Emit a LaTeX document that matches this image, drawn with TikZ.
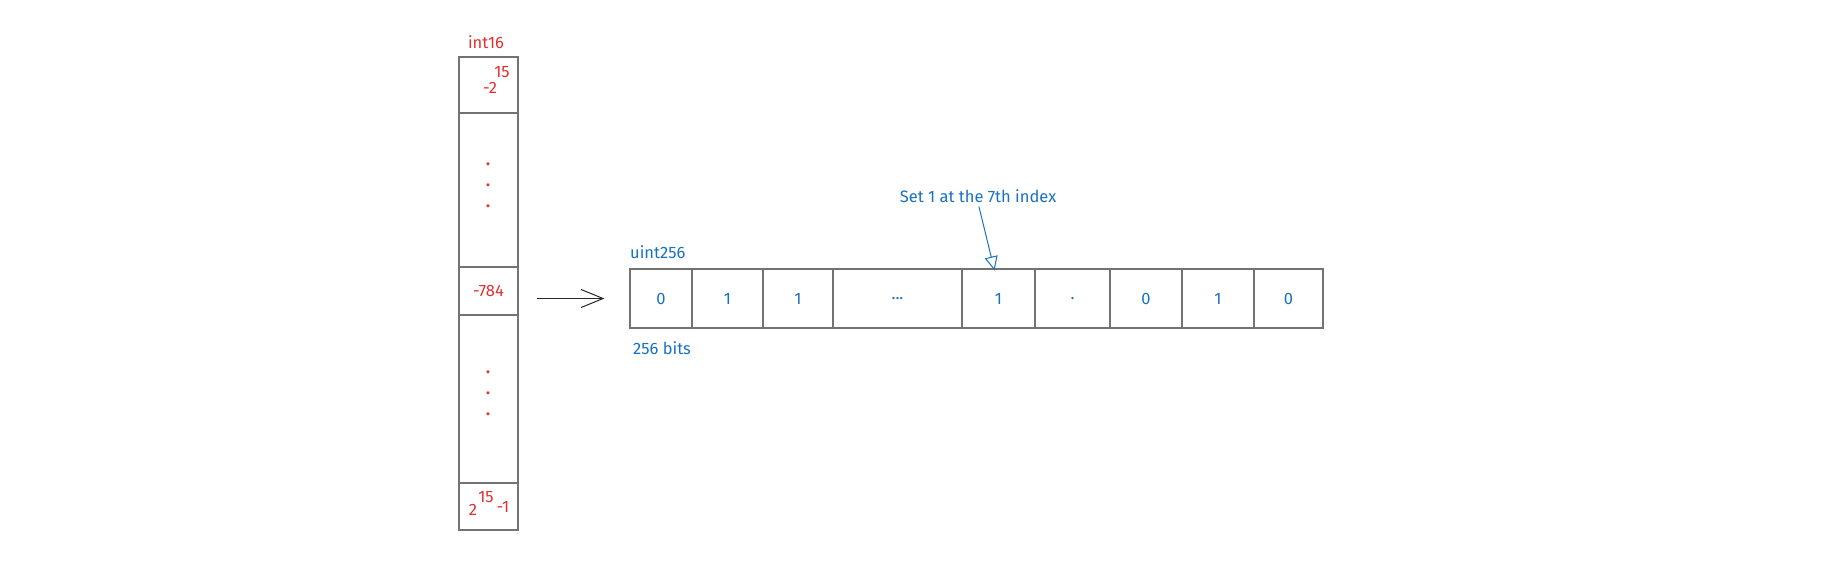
\documentclass[tikz,border=0pt]{standalone}
\usepackage{fontspec}
\setmainfont{Fira Sans}
\usetikzlibrary{arrows.meta}
\definecolor{exred}{HTML}{E03131}
\definecolor{exblue}{HTML}{1971C2}
\tikzset{
	colcell/.style={draw=black!55, line width=1.2pt, inner sep=0pt, minimum width=59pt, minimum height=#1, text=exred, font=\fontsize{16.5}{18}\selectfont},
	bitcell/.style={draw=black!55, line width=1.2pt, inner sep=0pt, minimum height=59pt, minimum width=#1, text=exblue, font=\fontsize{16.5}{18}\selectfont},
	redtxt/.style={text=exred, inner sep=0pt, font=\fontsize{16.5}{18}\selectfont},
	bluetxt/.style={text=exblue, inner sep=0pt, font=\fontsize{16.5}{18}\selectfont},
}

\begin{document}
\begin{tikzpicture}[x=1pt, y=-1pt]
		%%%%% START %%%%%
		\useasboundingbox[fill=white] (0, 0) rectangle (1831, 576);
		
		% int16 column
		\node[redtxt] (intlabel) at (486, 42) {int16};
		\node[colcell=56pt] (cmin) at (488.5, 85) {};
		\node[colcell=154pt] (cdotsa) at (488.5, 190) {};
		\node[colcell=48pt] (cval) at (488.5, 291) {-784};
		\node[colcell=168pt] (cdotsb) at (488.5, 399) {};
		\node[colcell=47pt] (cmax) at (488.5, 506.5) {};
		
		\node[redtxt] (minexp) at (502, 72) {15};
		\node[redtxt] (minbase) at (490, 88) {-2};
		\node[redtxt, align=center, font=\bfseries\fontsize{16.5}{21}\selectfont] (dotsa) at (488, 185) {.\\.\\.};
		\node[redtxt, align=center, font=\bfseries\fontsize{16.5}{21}\selectfont] (dotsb) at (488, 393) {.\\.\\.};
		\node[redtxt] (maxbase) at (473, 510) {2};
		\node[redtxt] (maxexp) at (486, 497) {15};
		\node[redtxt] (maxsub) at (503, 507) {-1};
		
		% uint256 row
		\node[bluetxt, anchor=west] (uintlabel) at (630, 252) {uint256};
		\node[bitcell=62pt] (b0) at (661, 298.5) {0};
		\node[bitcell=71pt] (b1) at (727.5, 298.5) {1};
		\node[bitcell=70pt] (b2) at (798, 298.5) {1};
		\node[bitcell=129pt] (b3) at (897.5, 298.5) {...};
		\node[bitcell=73pt] (b4) at (998.5, 298.5) {1};
		\node[bitcell=75pt] (b5) at (1072.5, 298.5) {.};
		\node[bitcell=72pt] (b6) at (1146, 298.5) {0};
		\node[bitcell=72pt] (b7) at (1218, 298.5) {1};
		\node[bitcell=69pt] (b8) at (1288.5, 298.5) {0};
		\node[bluetxt, anchor=west] (bitslabel) at (633, 348) {256 bits};
		
		\draw[black!85, line width=1pt, -{Straight Barb[length=22pt, width=18pt]}, shorten <=18pt, shorten >=25pt] (cval.east |- b0.west) -- (b0.west);
		
		% note
		\node[bluetxt] (note) at (978, 196) {Set 1 at the 7th index};
		\draw[exblue, line width=1pt, -{Triangle[open, length=14pt, width=13pt]}, shorten <=4pt] (note.south) -- ([xshift=-4pt, yshift=-2pt]b4.north);
		%%%%% END %%%%%
	\end{tikzpicture}
\end{document}
